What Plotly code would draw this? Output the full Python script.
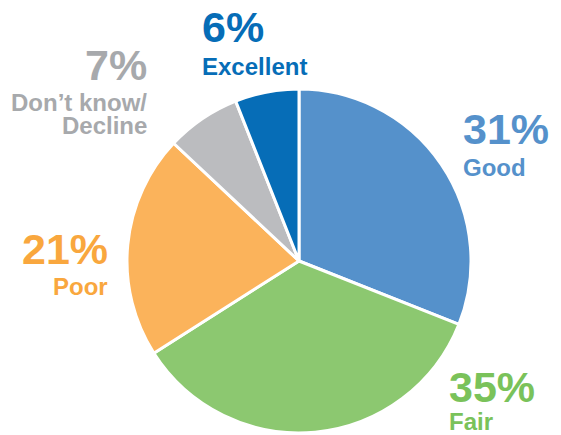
import plotly.graph_objects as go

# survey shares, clockwise from 12 o'clock
categories = ["Good", "Fair", "Poor", "Don’t know/Decline", "Excellent"]
shares = [31, 35, 21, 7, 6]
label_lines = [["Good"], ["Fair"], ["Poor"], ["Don’t know/", "Decline"], ["Excellent"]]

slice_colors = ["#5591CB", "#8CC870", "#FBB35B", "#BBBCBF", "#066DB7"]
text_colors = ["#5591CB", "#7AC25A", "#F9A73E", "#A7A9AC", "#066DB7"]

# the page body keeps an 8px margin, so the figure is made smaller to fit
OFF = 8
W, H = 561 - OFF, 435 - OFF
FONT = "Liberation Sans, Arial, sans-serif"

# label placement in page pixels: (x, anchor, y of percent, y of first label line)
label_pos = [
    (461, "left", 129, 167),
    (447, "left", 387, 421),
    (110, "right", 249, 286),
    (149, "right", 65, 102),
    (200, "left", 27, 66),
]


def px_x(x):
    return (x - OFF) / W


def px_y(y):
    return 1 - (y - OFF) / H


cx, cy, r = 299, 261, 172

fig = go.Figure(go.Pie(
    labels=categories,
    values=shares,
    sort=False,
    direction="clockwise",
    rotation=0,
    marker=dict(colors=slice_colors, line=dict(color="white", width=3)),
    textinfo="none",
    hoverinfo="label+percent",
    domain=dict(x=[px_x(cx - r), px_x(cx + r)],
                y=[px_y(cy + r), px_y(cy - r)]),
    showlegend=False,
))

for i, (x, anchor, y_pct, y_lab) in enumerate(label_pos):
    fig.add_annotation(
        x=px_x(x), y=px_y(y_pct), xref="paper", yref="paper",
        xanchor=anchor, yanchor="middle", showarrow=False,
        text=f"<b>{shares[i]}%</b>",
        font=dict(family=FONT, size=43, color=text_colors[i]),
    )
    for j, line in enumerate(label_lines[i]):
        fig.add_annotation(
            x=px_x(x), y=px_y(y_lab + 23 * j), xref="paper", yref="paper",
            xanchor=anchor, yanchor="middle", showarrow=False,
            text=f"<b>{line}</b>",
            font=dict(family=FONT, size=24, color=text_colors[i]),
        )

fig.update_layout(
    width=W, height=H,
    margin=dict(l=0, r=0, t=0, b=0),
    paper_bgcolor="white",
    plot_bgcolor="white",
)

fig.write_html("out.html")
